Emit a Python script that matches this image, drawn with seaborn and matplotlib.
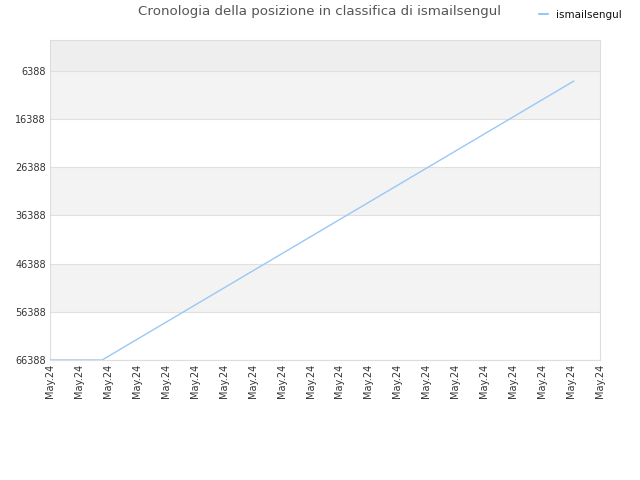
import matplotlib
matplotlib.use("Agg")
import matplotlib.pyplot as plt
import seaborn as sns
import pandas as pd

# data
x_pos = [0.0, 1.8, 18.1]
ranks = [66388, 66388, 8500]
tick_labels = ["May.24"] * 20
y_ticks = [6388, 16388, 26388, 36388, 46388, 56388, 66388]
series_name = "ismailsengul"
title = "Cronologia della posizione in classifica di ismailsengul"

df = pd.DataFrame({"x": x_pos, "rank": ranks, "who": series_name})

sns.set_theme(style="white")
plt.rcParams['font.family'] = ['DejaVu Sans']

fig = plt.figure(figsize=(6.4, 4.8), dpi=100)
ax = fig.add_axes([50/640, 120/480, 550/640, 320/480])

# bands
ax.axhspan(0, y_ticks[0], color="#eeeeee", zorder=0, lw=0)
for i in range(len(y_ticks) - 1):
    c = "#f3f3f3" if i % 2 == 0 else "#ffffff"
    ax.axhspan(y_ticks[i], y_ticks[i+1], color=c, zorder=0, lw=0)
for t in y_ticks:
    ax.axhline(t, color="#e0e0e0", lw=0.8, zorder=1)

sns.lineplot(data=df, x="x", y="rank", hue="who", palette=["#99c8f5"],
             ax=ax, lw=1, legend=False, zorder=3)

ax.set_xlim(0, 19)
ax.set_ylim(66388, 0)
ax.set_xticks(range(20))
ax.set_xticklabels(tick_labels, rotation=90, fontsize=7, color="#333333")
ax.set_yticks(y_ticks)
ax.set_yticklabels([str(v) for v in y_ticks], fontsize=7, color="#333333")
ax.tick_params(axis="both", length=0, pad=3)
ax.set_xlabel("")
ax.set_ylabel("")
for s in ax.spines.values():
    s.set_color("#dddddd")
    s.set_linewidth(0.8)

fig.text(319/640, 1 - 12/480, title, ha="center", va="center", fontsize=9.6, color="#555555")
# legend
from matplotlib.lines import Line2D
h = Line2D([0], [0], color="#99c8f5", lw=1.5)
fig.legend([h], [series_name], loc="center right", bbox_to_anchor=(622/640, 1 - 15/480),
           frameon=False, fontsize=7.5, handlelength=0.9, handletextpad=0.8,
           borderaxespad=0, borderpad=0, labelcolor="#111111")

fig.savefig("out.png", dpi=100)
